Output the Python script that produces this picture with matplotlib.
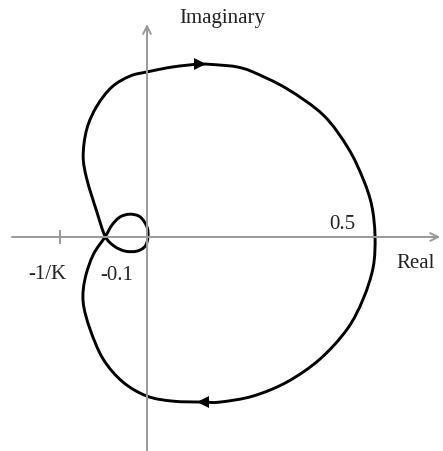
import matplotlib
matplotlib.use('Agg')
import matplotlib.pyplot as plt
import numpy as np
from matplotlib.path import Path
from matplotlib.patches import PathPatch

# Nyquist contour (real, imaginary), traced as one closed path
curve_re = [-0.092, -0.110, -0.132, -0.140, -0.132, -0.110, -0.077, -0.037, 0.000,
            0.057, 0.116, 0.160, 0.197, 0.232, 0.307, 0.387, 0.441, 0.474, 0.493,
            0.500, 0.496, 0.474, 0.439, 0.379, 0.307, 0.232, 0.160, 0.123, 0.057,
            0.000, -0.053, -0.096, -0.125, -0.140, -0.136, -0.118, -0.092,
            -0.077, -0.059, -0.037, -0.015, 0.000, 0.002, -0.004, -0.022, -0.048,
            -0.072]
curve_im = [0.002, 0.055, 0.127, 0.178, 0.237, 0.287, 0.329, 0.353, 0.362,
            0.373, 0.379, 0.377, 0.373, 0.362, 0.325, 0.267, 0.195, 0.127, 0.068,
            0.002, -0.066, -0.136, -0.202, -0.268, -0.318, -0.349, -0.362, -0.362, -0.360,
            -0.349, -0.318, -0.268, -0.202, -0.143, -0.092, -0.039, 0.000,
            0.026, 0.044, 0.050, 0.044, 0.022, 0.000, -0.020, -0.031, -0.031,
            -0.020]

# direction arrows on the contour
arrow_re = [0.116, 0.123]
arrow_im = [0.379, -0.362]
arrow_marker = ['>', '<']

# labelled points on the real axis
crit_point = -0.19   # -1/K
cross_left = -0.092  # -0.1
cross_right = 0.500  # 0.5


def closed_smooth_path(xs, ys):
    # cubic bezier segments through the traced points (Catmull-Rom tangents)
    pts = np.column_stack([xs, ys])
    n = len(pts)
    verts = [pts[0]]
    codes = [Path.MOVETO]
    for i in range(n):
        p0, p1, p2, p3 = pts[i - 1], pts[i], pts[(i + 1) % n], pts[(i + 2) % n]
        verts += [p1 + (p2 - p0) / 6, p2 - (p3 - p1) / 6, p2]
        codes += [Path.CURVE4] * 3
    return Path(verts, codes)


fig = plt.figure(figsize=(4.43, 4.52), dpi=100)
ax = fig.add_axes([0, 0, 1, 1])
ax.set_xlim(-0.3224, 0.6491)
ax.set_ylim(-0.4693, 0.5219)
ax.set_aspect('equal')
ax.axis('off')

axis_col = '#9a9a9a'
ax.annotate('', xy=(0.643, 0), xytext=(-0.296, 0),
            arrowprops=dict(arrowstyle='->', color=axis_col, lw=1.4,
                            mutation_scale=14, shrinkA=0, shrinkB=0))
ax.annotate('', xy=(0, 0.467), xytext=(0, -0.475),
            arrowprops=dict(arrowstyle='->', color=axis_col, lw=1.4,
                            mutation_scale=14, shrinkA=0, shrinkB=0))
ax.plot([crit_point, crit_point], [-0.013, 0.013], color=axis_col, lw=1.4)

ax.add_patch(PathPatch(closed_smooth_path(curve_re, curve_im), facecolor='none',
                       edgecolor='black', lw=2.1, joinstyle='round'))
for x, y, m in zip(arrow_re, arrow_im, arrow_marker):
    ax.plot(x, y, marker=m, color='black', markersize=9, markeredgewidth=0)

font = dict(family='Liberation Serif', fontsize=15, color='#222222')
ax.text(0.164, 0.482, 'Imaginary', ha='center', va='center', **font)
ax.text(0.546, -0.055, 'Real', ha='left', va='center', **font)
ax.text(-0.219, -0.080, '-1/K', ha='center', va='center', **font)
ax.text(-0.066, -0.082, '-0.1', ha='center', va='center', **font)
ax.text(0.428, 0.029, '0.5', ha='center', va='center', **font)

fig.savefig('out.png', dpi=100)
plt.close(fig)
